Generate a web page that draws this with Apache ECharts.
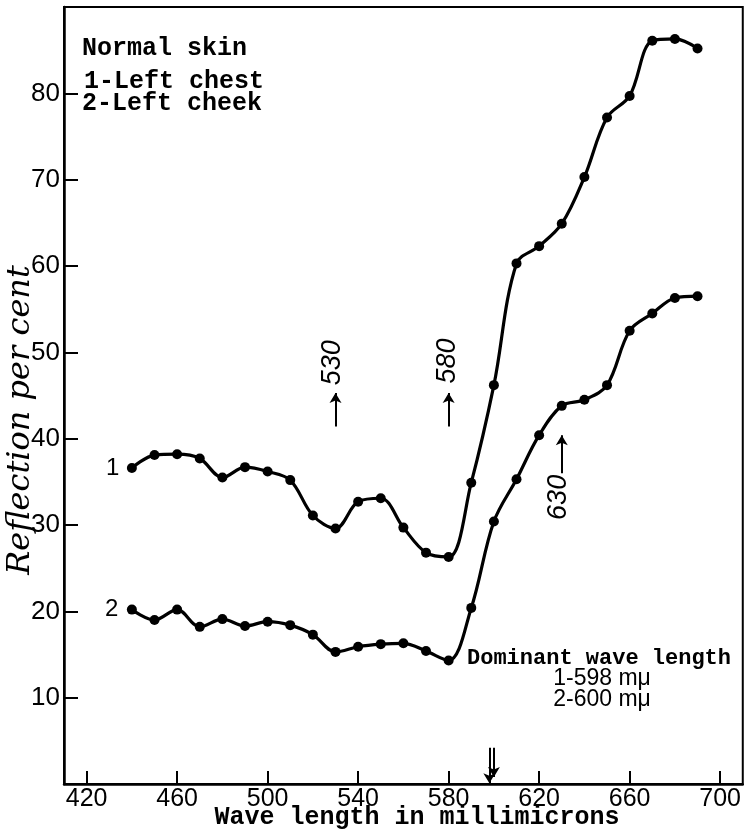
<!DOCTYPE html>
<html>
<head>
<meta charset="utf-8">
<script src="https://cdn.jsdelivr.net/npm/echarts@6/dist/echarts.min.js"></script>
<style>
html,body{margin:0;padding:0;background:#fff;}
#c{width:744px;height:838px;}
</style>
</head>
<body>
<div id="c"></div>
<script>
// ---- data ----
const wavelengths = [440,450,460,470,480,490,500,510,520,530,540,550,560,570,580,590,600,610,620,630,640,650,660,670,680,690];
const leftChest  = [36.6,38.1,38.2,37.7,35.5,36.7,36.2,35.2,31.1,29.6,32.7,33.1,29.7,26.8,26.3,34.9,46.2,60.3,62.3,64.9,70.3,77.2,79.7,86.1,86.3,85.2];
const leftCheek  = [20.2,19.0,20.2,18.2,19.1,18.3,18.8,18.4,17.3,15.3,15.9,16.2,16.3,15.4,14.3,20.4,30.4,35.3,40.4,43.8,44.5,46.2,52.5,54.5,56.3,56.5];
const xTicks = [420,460,500,540,580,620,660,700];
const yTicks = [10,20,30,40,50,60,70,80];
const dominant = [598, 600];

const MONO = '"Liberation Mono", "DejaVu Sans Mono", monospace';
const SANS = '"Liberation Sans", Arial, sans-serif';

const chart = echarts.init(document.getElementById('c'), null, {renderer:'canvas'});

function pairs(xs, ys){ return xs.map((x,i)=>[x, ys[i]]); }

const arrowLine = {color:'#000', width:2, type:'solid'};

const option = {
  backgroundColor:'#fff',
  animation:false,
  grid:{left:64, right:1, top:7, bottom:54, show:true, borderColor:'#000', borderWidth:2, containLabel:false},
  xAxis:{
    type:'value', min:410, max:710,
    axisLine:{show:true, lineStyle:{color:'#000', width:2.5}},
    axisTick:{show:true, inside:true, length:13, lineStyle:{color:'#000', width:2}, customValues:xTicks},
    axisLabel:{show:true, color:'#000', fontFamily:SANS, fontSize:25, margin:3, customValues:xTicks},
    splitLine:{show:false}
  },
  yAxis:{
    type:'value', min:0, max:90,
    axisLine:{show:true, lineStyle:{color:'#000', width:2.5}},
    axisTick:{show:true, inside:true, length:14, lineStyle:{color:'#000', width:2}, customValues:yTicks},
    axisLabel:{show:true, color:'#000', fontFamily:SANS, fontSize:26, margin:4, customValues:yTicks},
    splitLine:{show:false}
  },
  series:[
    {
      name:'1-Left chest', type:'line', smooth:0.35,
      data:pairs(wavelengths, leftChest),
      symbol:'circle', symbolSize:10,
      lineStyle:{color:'#000', width:3.2},
      itemStyle:{color:'#000'},
      markLine:{
        silent:true, animation:false, label:{show:false},
        lineStyle:arrowLine, symbolSize:[9,10],
        data:[
          [{coord:[530,41.4], symbol:'none'},{coord:[530,45.3], symbol:'arrow'}],
          [{coord:[580,41.4], symbol:'none'},{coord:[580,45.3], symbol:'arrow'}],
          [{coord:[630,36.0], symbol:'none'},{coord:[630,40.4], symbol:'arrow'}],
          [{coord:[dominant[0],4.2], symbol:'none'},{coord:[dominant[0],0.1], symbol:'arrow'}],
          [{coord:[dominant[1],4.2], symbol:'none'},{coord:[dominant[1],0.8], symbol:'arrow'}]
        ]
      }
    },
    {
      name:'2-Left cheek', type:'line', smooth:0.35,
      data:pairs(wavelengths, leftCheek),
      symbol:'circle', symbolSize:10,
      lineStyle:{color:'#000', width:3.2},
      itemStyle:{color:'#000'}
    }
  ]
};
chart.setOption(option);

// annotation texts anchored in data coordinates
function px(x,y){ return chart.convertToPixel({gridIndex:0},[x,y]); }
const p530 = px(530, 48.8), p580 = px(580, 49.0), p630 = px(630, 33.2);
const p1 = px(432, 36.6), p2 = px(432, 20.2);

chart.setOption({
  graphic:[
    {type:'text', left:82, top:36, style:{text:'Normal skin', font:'bold 25px '+MONO, fill:'#000'}},
    {type:'text', left:84, top:69, style:{text:'1-Left chest', font:'bold 25px '+MONO, fill:'#000'}},
    {type:'text', left:82, top:91, style:{text:'2-Left cheek', font:'bold 25px '+MONO, fill:'#000'}},
    {type:'text', x:417, y:818, style:{text:'Wave length in millimicrons', font:'bold 25px '+MONO, fill:'#000', align:'center', verticalAlign:'middle'}},
    {type:'text', x:21, y:420, rotation:Math.PI/2, style:{text:'Reflection per cent', font:'italic 32px "DejaVu Serif", serif', fill:'#000', align:'center', verticalAlign:'middle'}},
    {type:'text', x:p1[0]-1, y:p1[1], style:{text:'1', font:'24px '+SANS, fill:'#000', align:'center', verticalAlign:'middle'}},
    {type:'text', x:p2[0]-2, y:p2[1], style:{text:'2', font:'24px '+SANS, fill:'#000', align:'center', verticalAlign:'middle'}},
    {type:'text', x:p530[0]-3, y:p530[1], rotation:Math.PI/2, style:{text:'530', font:'italic 27px '+SANS, fill:'#000', align:'center', verticalAlign:'middle'}},
    {type:'text', x:p580[0]-1, y:p580[1], rotation:Math.PI/2, style:{text:'580', font:'italic 27px '+SANS, fill:'#000', align:'center', verticalAlign:'middle'}},
    {type:'text', x:p630[0]-3, y:p630[1], rotation:Math.PI/2, style:{text:'630', font:'italic 27px '+SANS, fill:'#000', align:'center', verticalAlign:'middle'}},
    {type:'text', x:599, y:658, style:{text:'Dominant wave length', font:'bold 22px '+MONO, fill:'#000', align:'center', verticalAlign:'middle'}},
    {type:'text', x:602, y:679, style:{text:'1-598 m\u03bc', font:'23px '+SANS, fill:'#000', align:'center', verticalAlign:'middle'}},
    {type:'text', x:602, y:700, style:{text:'2-600 m\u03bc', font:'23px '+SANS, fill:'#000', align:'center', verticalAlign:'middle'}}
  ]
});
</script>
</body>
</html>
